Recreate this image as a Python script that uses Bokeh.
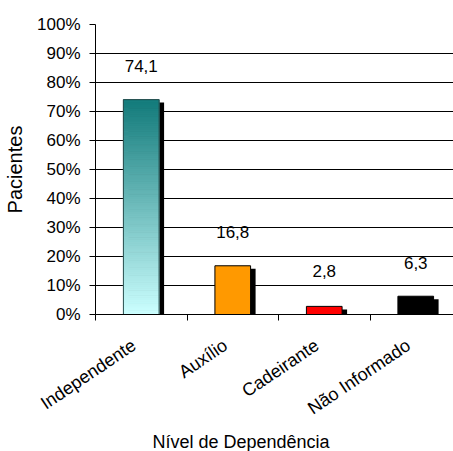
from bokeh.plotting import figure
from bokeh.models import Range1d, FixedTicker, ColumnDataSource, Title
from bokeh.core.properties import value
from bokeh.embed import file_html
from bokeh.resources import INLINE

categories = ["Independente", "Auxílio", "Cadeirante", "Não Informado"]
values = [74.1, 16.8, 2.8, 6.3]
value_labels = ["74,1", "16,8", "2,8", "6,3"]
y_ticks = [0, 10, 20, 30, 40, 50, 60, 70, 80, 90, 100]

FONT = "Liberation Sans"
bar_colors = [None, "#ff9900", "#ff0000", "#000000"]
BW = 0.39
px_x = 91.5      # pixels per category
px_y = 2.9       # pixels per percent
sdx = 5 / px_x
sdy = 3 / px_y

p = figure(width=453, height=451, output_backend="svg", toolbar_location=None,
           x_range=Range1d(0, 358 / px_x), y_range=Range1d(0, 100),
           min_border_left=95, min_border_right=0, min_border_top=24,
           min_border_bottom=137)
p.outline_line_color = None
p.background_fill_color = "white"
p.border_fill_color = "white"

centers = [i + 0.5 for i in range(len(categories))]

# shadows
p.quad(left=[c - BW / 2 + sdx for c in centers], right=[c + BW / 2 + sdx for c in centers],
       top=[v - sdy for v in values], bottom=[-sdy] * len(values),
       fill_color="black", line_color=None)

# gradient bar (first category)
N = 100
top_rgb = (0x14, 0x7c, 0x7c)
bot_rgb = (0xcc, 0xff, 0xff)
v0 = values[0]
gl, gr, gt, gb, gc = [], [], [], [], []
for k in range(N):
    t = k / (N - 1)
    r = int(bot_rgb[0] + (top_rgb[0] - bot_rgb[0]) * t)
    g = int(bot_rgb[1] + (top_rgb[1] - bot_rgb[1]) * t)
    b = int(bot_rgb[2] + (top_rgb[2] - bot_rgb[2]) * t)
    gl.append(centers[0] - BW / 2)
    gr.append(centers[0] + BW / 2)
    gb.append(v0 * k / N)
    gt.append(v0 * (k + 1) / N)
    gc.append("#%02x%02x%02x" % (r, g, b))
p.quad(left=gl, right=gr, top=gt, bottom=gb, fill_color=gc, line_color=gc, line_width=1)
p.quad(left=[centers[0] - BW / 2], right=[centers[0] + BW / 2], top=[v0], bottom=[0],
       fill_color=None, line_color="#2a4f4f", line_width=1)

# other bars
p.quad(left=[c - BW / 2 for c in centers[1:]], right=[c + BW / 2 for c in centers[1:]],
       top=values[1:], bottom=[0] * 3, fill_color=bar_colors[1:], line_color="black", line_width=1)

# data labels
src = ColumnDataSource(dict(x=centers, y=[max(v + 11.5, 15) for v in values], t=value_labels))
p.text(x="x", y="y", text="t", source=src, text_align="center", text_baseline="middle",
       text_font=value(FONT), text_font_size="17px", text_color="black")

# y axis
p.yaxis.ticker = FixedTicker(ticks=y_ticks)
p.yaxis.major_label_overrides = {t: f"{t}%" for t in y_ticks}
p.yaxis.major_label_text_font = FONT
p.yaxis.major_label_text_font_size = "17px"
p.yaxis.major_label_text_color = "black"
p.yaxis.major_tick_out = 6
p.yaxis.major_tick_in = 0
p.yaxis.minor_tick_line_color = None
p.yaxis.axis_line_color = "black"
p.yaxis.major_tick_line_color = "black"
p.yaxis.major_label_standoff = 9
p.yaxis.axis_label = "Pacientes"
p.yaxis.axis_label_text_font = FONT
p.yaxis.axis_label_text_font_size = "20px"
p.yaxis.axis_label_text_font_style = "normal"
p.yaxis.axis_label_text_color = "black"
p.yaxis.axis_label_standoff = 8

# x axis
label_ticks = [c - 0.08 for c in centers]
p.xaxis.ticker = FixedTicker(ticks=label_ticks, minor_ticks=list(range(len(categories) + 1)))
p.xaxis.major_label_overrides = {c: n for c, n in zip(label_ticks, categories)}
p.xaxis.major_label_orientation = 0.593
p.xaxis.major_label_text_font = FONT
p.xaxis.major_label_text_font_size = "18px"
p.xaxis.major_label_text_color = "black"
p.xaxis.major_tick_line_color = None
p.xaxis.major_tick_out = 0
p.xaxis.major_tick_in = 0
p.xaxis.minor_tick_out = 6
p.xaxis.minor_tick_in = 0
p.xaxis.minor_tick_line_color = "black"
p.xaxis.axis_line_color = "black"
p.xaxis.major_label_standoff = 23

p.xgrid.grid_line_color = None
p.ygrid.grid_line_color = "black"
p.ygrid.grid_line_width = 1

p.add_layout(Title(text="Nível de Dependência", align="left", offset=57,
                   text_font=FONT, text_font_size="18px", text_font_style="normal",
                   text_color="black", standoff=0), "below")

open("out.html", "w").write(file_html(p, INLINE))
